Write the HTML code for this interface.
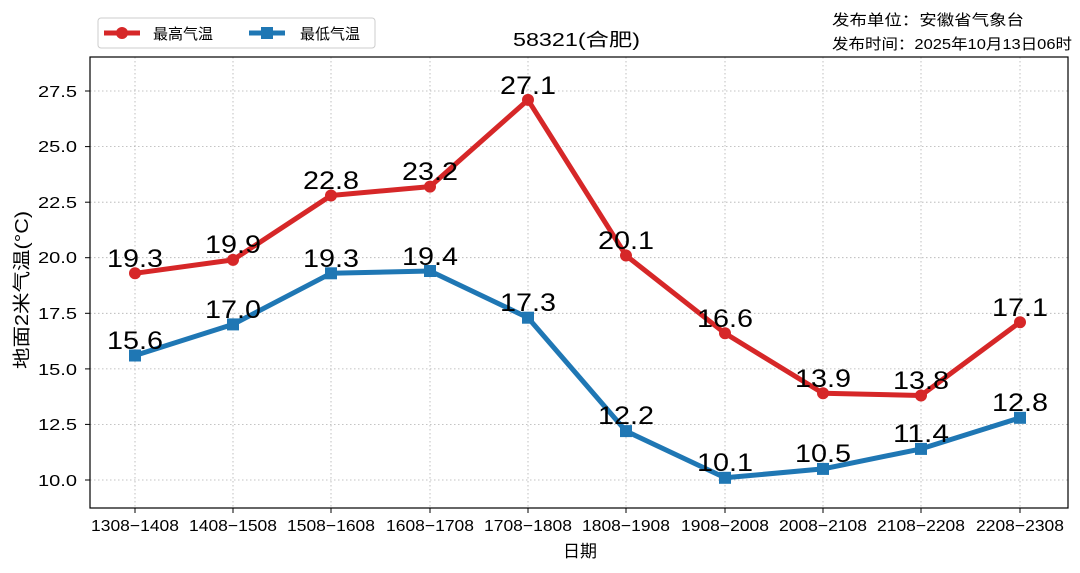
<!DOCTYPE html>
<html><head><meta charset="utf-8"><style>
html,body{margin:0;padding:0;background:#fff;}
svg{display:block;font-family:"WenQuanYi Zen Hei","Liberation Sans",sans-serif;}
</style></head><body>
<svg width="1080" height="573" viewBox="0 0 1080 573" xmlns="http://www.w3.org/2000/svg">
<rect width="1080" height="573" fill="#fff"/>
<g stroke="#b0b0b0" stroke-width="0.8" stroke-dasharray="1.5,2.5">
<line x1="90" x2="1068" y1="91" y2="91"/><line x1="90" x2="1068" y1="146.6" y2="146.6"/><line x1="90" x2="1068" y1="202.2" y2="202.2"/><line x1="90" x2="1068" y1="257.7" y2="257.7"/><line x1="90" x2="1068" y1="313.3" y2="313.3"/><line x1="90" x2="1068" y1="368.9" y2="368.9"/><line x1="90" x2="1068" y1="424.4" y2="424.4"/><line x1="90" x2="1068" y1="480" y2="480"/>
<line y1="57" y2="508" x1="135" x2="135"/><line y1="57" y2="508" x1="233" x2="233"/><line y1="57" y2="508" x1="331" x2="331"/><line y1="57" y2="508" x1="430" x2="430"/><line y1="57" y2="508" x1="528" x2="528"/><line y1="57" y2="508" x1="626" x2="626"/><line y1="57" y2="508" x1="725" x2="725"/><line y1="57" y2="508" x1="823" x2="823"/><line y1="57" y2="508" x1="921" x2="921"/><line y1="57" y2="508" x1="1020" x2="1020"/>
</g>
<rect x="90" y="57" width="978" height="451" fill="none" stroke="#000" stroke-width="1.2"/>
<g stroke="#000" stroke-width="1">
<line x1="85" x2="90" y1="91" y2="91"/><line x1="85" x2="90" y1="146.6" y2="146.6"/><line x1="85" x2="90" y1="202.2" y2="202.2"/><line x1="85" x2="90" y1="257.7" y2="257.7"/><line x1="85" x2="90" y1="313.3" y2="313.3"/><line x1="85" x2="90" y1="368.9" y2="368.9"/><line x1="85" x2="90" y1="424.4" y2="424.4"/><line x1="85" x2="90" y1="480" y2="480"/>
<line y1="508" y2="513" x1="135" x2="135"/><line y1="508" y2="513" x1="233" x2="233"/><line y1="508" y2="513" x1="331" x2="331"/><line y1="508" y2="513" x1="430" x2="430"/><line y1="508" y2="513" x1="528" x2="528"/><line y1="508" y2="513" x1="626" x2="626"/><line y1="508" y2="513" x1="725" x2="725"/><line y1="508" y2="513" x1="823" x2="823"/><line y1="508" y2="513" x1="921" x2="921"/><line y1="508" y2="513" x1="1020" x2="1020"/>
</g>
<g font-size="16" fill="#000">
<text x="38" y="97" textLength="39" lengthAdjust="spacingAndGlyphs">27.5</text><text x="38" y="152" textLength="39" lengthAdjust="spacingAndGlyphs">25.0</text><text x="38" y="208" textLength="39" lengthAdjust="spacingAndGlyphs">22.5</text><text x="38" y="263" textLength="39" lengthAdjust="spacingAndGlyphs">20.0</text><text x="38" y="319" textLength="39" lengthAdjust="spacingAndGlyphs">17.5</text><text x="38" y="375" textLength="39" lengthAdjust="spacingAndGlyphs">15.0</text><text x="38" y="430" textLength="39" lengthAdjust="spacingAndGlyphs">12.5</text><text x="38" y="486" textLength="39" lengthAdjust="spacingAndGlyphs">10.0</text>
</g>
<g font-size="16" fill="#000">
<text x="91" y="531" textLength="88" lengthAdjust="spacingAndGlyphs">1308−1408</text><text x="189" y="531" textLength="88" lengthAdjust="spacingAndGlyphs">1408−1508</text><text x="287" y="531" textLength="88" lengthAdjust="spacingAndGlyphs">1508−1608</text><text x="386" y="531" textLength="88" lengthAdjust="spacingAndGlyphs">1608−1708</text><text x="484" y="531" textLength="88" lengthAdjust="spacingAndGlyphs">1708−1808</text><text x="582" y="531" textLength="88" lengthAdjust="spacingAndGlyphs">1808−1908</text><text x="681" y="531" textLength="88" lengthAdjust="spacingAndGlyphs">1908−2008</text><text x="779" y="531" textLength="88" lengthAdjust="spacingAndGlyphs">2008−2108</text><text x="877" y="531" textLength="88" lengthAdjust="spacingAndGlyphs">2108−2208</text><text x="976" y="531" textLength="88" lengthAdjust="spacingAndGlyphs">2208−2308</text>
</g>
<text x="580" y="557" font-size="17" text-anchor="middle">日期</text>
<text x="513" y="46" font-size="18" textLength="127" lengthAdjust="spacingAndGlyphs">58321(合肥)</text>
<text transform="translate(28,290) rotate(-90)" text-anchor="middle" font-size="18" textLength="158" lengthAdjust="spacingAndGlyphs">地面2米气温(°C)</text>
<text x="832" y="25" font-size="15" textLength="192" lengthAdjust="spacingAndGlyphs">发布单位：安徽省气象台</text>
<text x="832" y="49" font-size="15" textLength="240" lengthAdjust="spacingAndGlyphs">发布时间：2025年10月13日06时</text>
<polyline fill="none" stroke="#d62728" stroke-width="5" stroke-linejoin="round" points="135,273.3 233,259.9 331,195.5 430,186.6 528,99.9 626,255.5 725,333.3 823,393.3 921,395.5 1020,322.2"/>
<g fill="#d62728"><circle cx="135" cy="273.3" r="6"/><circle cx="233" cy="259.9" r="6"/><circle cx="331" cy="195.5" r="6"/><circle cx="430" cy="186.6" r="6"/><circle cx="528" cy="99.9" r="6"/><circle cx="626" cy="255.5" r="6"/><circle cx="725" cy="333.3" r="6"/><circle cx="823" cy="393.3" r="6"/><circle cx="921" cy="395.5" r="6"/><circle cx="1020" cy="322.2" r="6"/></g>
<polyline fill="none" stroke="#1f77b4" stroke-width="5" stroke-linejoin="round" points="135,355.5 233,324.4 331,273.3 430,271 528,317.7 626,431.1 725,477.8 823,468.9 921,448.9 1020,417.8"/>
<g fill="#1f77b4"><rect x="129" y="349.5" width="12" height="12"/><rect x="227" y="318.4" width="12" height="12"/><rect x="325" y="267.3" width="12" height="12"/><rect x="424" y="265" width="12" height="12"/><rect x="522" y="311.7" width="12" height="12"/><rect x="620" y="425.1" width="12" height="12"/><rect x="719" y="471.8" width="12" height="12"/><rect x="817" y="462.9" width="12" height="12"/><rect x="915" y="442.9" width="12" height="12"/><rect x="1014" y="411.8" width="12" height="12"/></g>
<g font-size="25" fill="#000">
<text x="107" y="267" textLength="56" lengthAdjust="spacingAndGlyphs">19.3</text><text x="205" y="253" textLength="56" lengthAdjust="spacingAndGlyphs">19.9</text><text x="303" y="189" textLength="56" lengthAdjust="spacingAndGlyphs">22.8</text><text x="402" y="180" textLength="56" lengthAdjust="spacingAndGlyphs">23.2</text><text x="500" y="94" textLength="56" lengthAdjust="spacingAndGlyphs">27.1</text><text x="598" y="249" textLength="56" lengthAdjust="spacingAndGlyphs">20.1</text><text x="697" y="327" textLength="56" lengthAdjust="spacingAndGlyphs">16.6</text><text x="795" y="387" textLength="56" lengthAdjust="spacingAndGlyphs">13.9</text><text x="893" y="389" textLength="56" lengthAdjust="spacingAndGlyphs">13.8</text><text x="992" y="316" textLength="56" lengthAdjust="spacingAndGlyphs">17.1</text>
<text x="107" y="349" textLength="56" lengthAdjust="spacingAndGlyphs">15.6</text><text x="205" y="318" textLength="56" lengthAdjust="spacingAndGlyphs">17.0</text><text x="303" y="267" textLength="56" lengthAdjust="spacingAndGlyphs">19.3</text><text x="402" y="265" textLength="56" lengthAdjust="spacingAndGlyphs">19.4</text><text x="500" y="311" textLength="56" lengthAdjust="spacingAndGlyphs">17.3</text><text x="598" y="424" textLength="56" lengthAdjust="spacingAndGlyphs">12.2</text><text x="697" y="471" textLength="56" lengthAdjust="spacingAndGlyphs">10.1</text><text x="795" y="462" textLength="56" lengthAdjust="spacingAndGlyphs">10.5</text><text x="893" y="442" textLength="56" lengthAdjust="spacingAndGlyphs">11.4</text><text x="992" y="411" textLength="56" lengthAdjust="spacingAndGlyphs">12.8</text>
</g>
<rect x="98" y="18" width="277" height="30" rx="3" fill="#fff" stroke="#ccc" stroke-width="1"/>
<line x1="104" x2="140" y1="33" y2="33" stroke="#d62728" stroke-width="5"/><circle cx="122" cy="33" r="6" fill="#d62728"/>
<text x="153" y="39" font-size="15">最高气温</text>
<line x1="249" x2="285" y1="33" y2="33" stroke="#1f77b4" stroke-width="5"/><rect x="261" y="27" width="12" height="12" fill="#1f77b4"/>
<text x="300" y="39" font-size="15">最低气温</text>
</svg>
</body></html>
